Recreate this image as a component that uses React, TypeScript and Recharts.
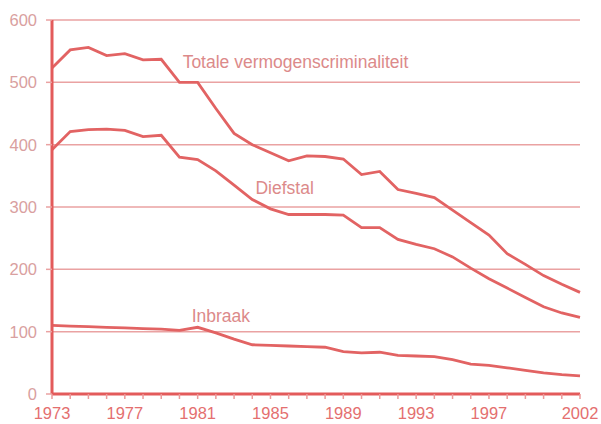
import { LineChart, Line, XAxis, YAxis, CartesianGrid, ReferenceDot } from 'recharts'

const years = [
  1973, 1974, 1975, 1976, 1977, 1978, 1979, 1980, 1981, 1982,
  1983, 1984, 1985, 1986, 1987, 1988, 1989, 1990, 1991, 1992,
  1993, 1994, 1995, 1996, 1997, 1998, 1999, 2000, 2001, 2002,
]

const totaal = [
  523, 552, 556, 543, 546, 536, 537, 500, 500, 458,
  418, 400, 387, 374, 382, 381, 377, 352, 357, 328,
  322, 315, 295, 275, 255, 225, 208, 190, 176, 163,
]

const diefstal = [
  392, 421, 424, 425, 423, 413, 415, 380, 376, 358,
  335, 312, 297, 288, 288, 288, 287, 267, 267, 248,
  240, 233, 220, 202, 185, 170, 155, 140, 130, 123,
]

const inbraak = [
  110, 109, 108, 107, 106, 105, 104, 102, 107, 98,
  88, 79, 78, 77, 76, 75, 68, 66, 67, 62,
  61, 60, 55, 48, 46, 42, 38, 34, 31, 29,
]

const majorYears = [1973, 1977, 1981, 1985, 1989, 1993, 1997, 2002]
const yTicks = [0, 100, 200, 300, 400, 500, 600]

const LINE = '#e26363'
const GRID = '#eaa2a2'
const AXIS = '#e35b5b'
const FONT = '"Liberation Sans", Arial, sans-serif'

const data = years.map((y, i) => ({
  year: y,
  totaal: totaal[i],
  diefstal: diefstal[i],
  inbraak: inbraak[i],
}))

// eslint-disable-next-line @typescript-eslint/no-explicit-any
function YearTick({ x, y, payload }: any) {
  if (!majorYears.includes(payload.value)) return null
  return (
    <text x={x} y={y + 18} textAnchor="middle" fill="#e46f6f" fontSize={16.5} fontFamily={FONT}>
      {payload.value}
    </text>
  )
}

const annot = { fill: '#dc8a8a', fontSize: 17.5, fontFamily: FONT }

export default function App() {
  return (
    <div style={{ position: 'absolute', left: 0, top: 0, width: 601, height: 424, background: '#fff' }}>
      <LineChart width={601} height={424} data={data} margin={{ top: 20, right: 21, bottom: 0, left: 0 }}>
        <CartesianGrid vertical={false} stroke={GRID} strokeWidth={1.5} />
        <XAxis
          dataKey="year"
          type="number"
          domain={[1973, 2002]}
          ticks={years}
          interval={0}
          height={30}
          tick={<YearTick />}
          tickSize={5}
          tickLine={{ stroke: '#eb9a9a', strokeWidth: 1.5 }}
          axisLine={{ stroke: AXIS, strokeWidth: 3 }}
        />
        <YAxis
          domain={[0, 600]}
          ticks={yTicks}
          width={52}
          tickSize={6}
          tickMargin={9}
          tick={{ fill: '#d9a0a0', fontSize: 16.5, fontFamily: FONT }}
          tickLine={{ stroke: GRID, strokeWidth: 1.5 }}
          axisLine={{ stroke: AXIS, strokeWidth: 3 }}
        />
        <Line dataKey="totaal" stroke={LINE} strokeWidth={2.8} dot={false} isAnimationActive={false} />
        <Line dataKey="diefstal" stroke={LINE} strokeWidth={2.8} dot={false} isAnimationActive={false} />
        <Line dataKey="inbraak" stroke={LINE} strokeWidth={2.8} dot={false} isAnimationActive={false} />
        <ReferenceDot x={1979.9} y={533} r={0} label={{ value: 'Totale vermogenscriminaliteit', position: 'right', ...annot }} />
        <ReferenceDot x={1983.9} y={331} r={0} label={{ value: 'Diefstal', position: 'right', ...annot }} />
        <ReferenceDot x={1980.4} y={125} r={0} label={{ value: 'Inbraak', position: 'right', ...annot }} />
      </LineChart>
    </div>
  )
}
